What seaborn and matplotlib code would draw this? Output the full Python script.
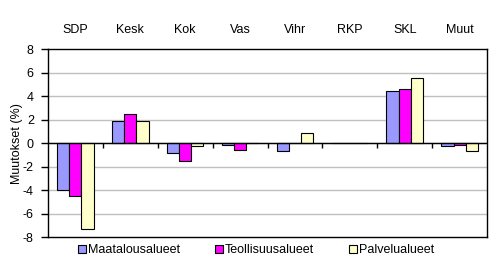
import matplotlib
matplotlib.use("Agg")
import matplotlib.pyplot as plt
import seaborn as sns
import pandas as pd
from matplotlib.patches import Patch

categories = ["SDP", "Kesk", "Kok", "Vas", "Vihr", "RKP", "SKL", "Muut"]
series_names = ["Maatalousalueet", "Teollisuusalueet", "Palvelualueet"]
maatalous = [-4.0, 1.9, -0.85, -0.15, -0.7, 0.0, 4.45, -0.25]
teollisuus = [-4.5, 2.5, -1.55, -0.6, 0.0, 0.0, 4.6, -0.15]
palvelu = [-7.3, 1.9, -0.25, 0.0, 0.85, 0.0, 5.6, -0.7]
colors = ["#9999FF", "#FF00FF", "#FFFFCC"]
y_ticks = [-8, -6, -4, -2, 0, 2, 4, 6, 8]

rows = []
for name, vals in zip(series_names, [maatalous, teollisuus, palvelu]):
    for c, v in zip(categories, vals):
        rows.append({"cat": c, "series": name, "value": v})
df = pd.DataFrame(rows)

sns.set_style("white")
plt.rcParams["font.family"] = ["Liberation Sans", "DejaVu Sans"]
plt.rcParams["text.color"] = "black"
plt.rcParams["axes.labelcolor"] = "black"
plt.rcParams["xtick.color"] = "black"
plt.rcParams["ytick.color"] = "black"

fig = plt.figure(figsize=(4.93, 2.70), dpi=100)
ax = fig.add_axes([0.0968, 0.1222, 0.8916, 0.6945])

sns.barplot(data=df, x="cat", y="value", hue="series", order=categories,
            hue_order=series_names, palette=dict(zip(series_names, colors)),
            width=0.67, edgecolor="black", linewidth=0.8, legend=False,
            ax=ax, errorbar=None, saturation=1)

ax.set_ylim(-8, 8)
ax.set_xlim(-0.5, len(categories) - 0.5)
ax.set_yticks(y_ticks)
ax.set_yticklabels([str(t) for t in y_ticks], fontsize=9)
for t in y_ticks[1:-1]:
    ax.axhline(t, color="#C0C0C0", lw=1, zorder=0)
ax.axhline(0, color="black", lw=1, zorder=3)
ax.vlines([i + 0.5 for i in range(len(categories) - 1)], -0.4, 0, color="black", lw=1, zorder=3)

ax.tick_params(axis="x", top=True, labeltop=True, bottom=False, labelbottom=False,
               length=0, pad=10, labelsize=9, labelcolor="black")
ax.tick_params(axis="y", left=True, length=5, width=1, color="black", pad=5, labelcolor="black")
ax.set_xlabel("")
ax.set_ylabel("Muutokset (%)", fontsize=9, labelpad=0, color="black")
for s in ax.spines.values():
    s.set_color("black")
    s.set_linewidth(1)
    s.set_visible(True)

handles = [Patch(facecolor=c, edgecolor="black", linewidth=0.8) for c in colors]
fig.legend(handles, series_names, loc="center", bbox_to_anchor=(0.52, 0.074), ncol=3,
           frameon=False, fontsize=9, handlelength=0.6, handleheight=0.6,
           handletextpad=0.2, columnspacing=2.8, labelcolor="black")

fig.savefig("out.png", dpi=100)
